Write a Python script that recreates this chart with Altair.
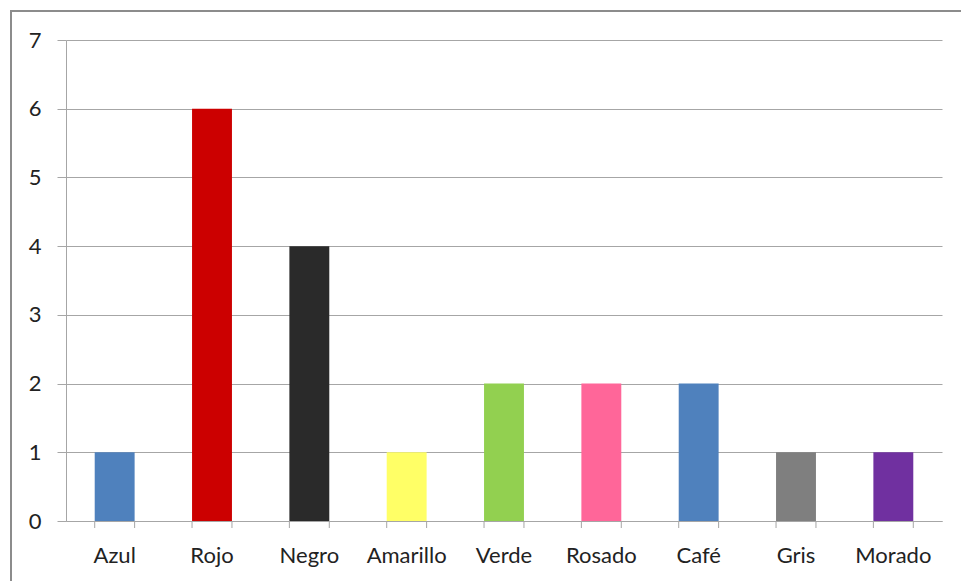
import altair as alt
import pandas as pd

# Favourite colours survey: number of answers per colour
colores = ["Azul", "Rojo", "Negro", "Amarillo", "Verde", "Rosado", "Café", "Gris", "Morado"]
votos = [1, 6, 4, 1, 2, 2, 2, 1, 1]
rellenos = ["#4F81BD", "#CC0000", "#2A2A2A", "#FFFF66", "#92D050",
            "#FF6699", "#4F81BD", "#7F7F7F", "#7030A0"]

df = pd.DataFrame({"color": colores, "votos": votos, "relleno": rellenos})

W, H = 876, 481
FONT = "Lato"
GRID = "#A6A6A6"

bars = alt.Chart(df).mark_bar().encode(
    x=alt.X("color:N", sort=colores, title=None,
            scale=alt.Scale(paddingInner=0.59, paddingOuter=0.295),
            axis=alt.Axis(labelAngle=0, ticks=False, domain=True, domainColor=GRID,
                          labelFont=FONT, labelFontSize=22, labelColor="#222222",
                          labelPadding=24, grid=False)),
    y=alt.Y("votos:Q", title=None,
            scale=alt.Scale(domain=[0, 7]),
            axis=alt.Axis(values=list(range(8)), tickSize=9, tickColor=GRID,
                          domainColor=GRID, gridColor=GRID, labelFont=FONT,
                          labelFontSize=22, labelColor="#222222", labelPadding=16)),
    color=alt.Color("relleno:N", scale=None, legend=None),
)

# category separator ticks below the x axis
sep_left = alt.Chart(df).mark_rule(color=GRID, strokeWidth=1).encode(
    x=alt.X("color:N", sort=colores, bandPosition=0),
    y=alt.value(H), y2=alt.value(H + 7),
)
sep_right = alt.Chart(df).mark_rule(color=GRID, strokeWidth=1).encode(
    x=alt.X("color:N", sort=colores, bandPosition=1),
    y=alt.value(H), y2=alt.value(H + 7),
)

# outer chart frame (right and bottom edges run past the canvas)
frame = alt.Chart(df).mark_rect(fill=None, stroke="#8C8C8C", strokeWidth=2).encode(
    x=alt.value(-55), x2=alt.value(W + 80),
    y=alt.value(-29), y2=alt.value(H + 80),
)

chart = alt.layer(frame, bars, sep_left, sep_right).properties(
    width=W, height=H,
    autosize=alt.AutoSizeParams(type="none"),
    padding={"left": 66, "top": 40, "right": 19, "bottom": 60},
).configure_view(stroke=None).configure_axis(gridWidth=1, domainWidth=1)

chart.save("out.html", embed_options={"renderer": "svg", "actions": False})
